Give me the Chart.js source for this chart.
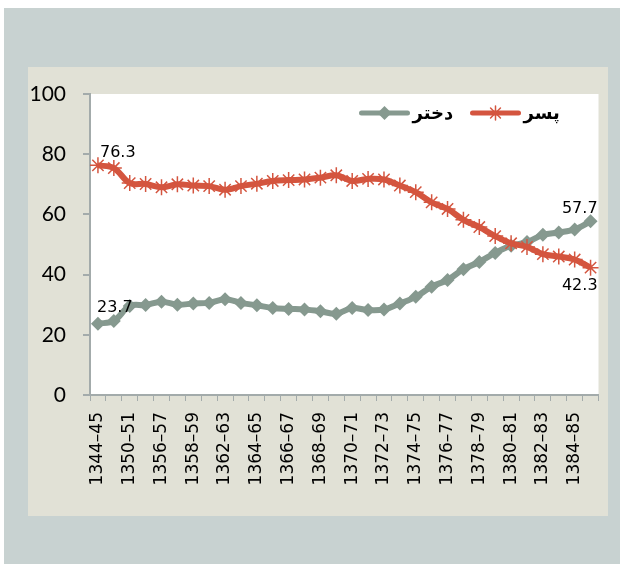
<!DOCTYPE html>
<html>
<head>
<meta charset="utf-8">
<script src="https://cdn.jsdelivr.net/npm/chart.js@4/dist/chart.umd.min.js"></script>
<style>
  html, body { margin: 0; padding: 0; background: #ffffff; }
  #fundo {
    position: absolute; left: 4px; top: 8px; width: 616px; height: 556px;
    background: #c8d2d1;
  }
  #painel {
    position: absolute; left: 28px; top: 67px; width: 580px; height: 449px;
    background: #e1e1d6;
  }
  #grafico { display: block; }
</style>
</head>
<body>
<div id="fundo"></div>
<div id="painel"><canvas id="grafico" width="580" height="449"></canvas></div>
<script>
// Anos (somente os pares aparecem no eixo)
const periodos = [
  '1344–45', '1347–48', '1350–51', '1353–54', '1356–57', '1357–58', '1358–59', '1360–61',
  '1362–63', '1363–64', '1364–65', '1365–66', '1366–67', '1367–68', '1368–69', '1369–70',
  '1370–71', '1371–72', '1372–73', '1373–74', '1374–75', '1375–76', '1376–77', '1377–78',
  '1378–79', '1379–80', '1380–81', '1381–82', '1382–83', '1383–84', '1384–85', '1385–86'
];

// پسر
const valoresPesar = [
  76.3, 75.4, 70.4, 70.1, 69.0, 70.0, 69.6, 69.4, 68.2, 69.4, 70.2, 71.1, 71.4, 71.6, 72.2, 73.0,
  71.1, 71.8, 71.6, 69.6, 67.4, 64.0, 61.8, 58.2, 55.8, 52.8, 50.4, 49.2, 46.8, 46.0, 45.0, 42.3
];

// دختر
const valoresDokhtar = [
  23.7, 24.6, 29.6, 29.9, 31.0, 30.0, 30.4, 30.6, 31.8, 30.6, 29.8, 28.9, 28.6, 28.4, 27.8, 27.0,
  28.9, 28.2, 28.4, 30.4, 32.6, 36.0, 38.2, 41.8, 44.2, 47.2, 49.6, 50.8, 53.2, 54.0, 55.0, 57.7
];

const ticksY = [0, 20, 40, 60, 80, 100];

const corPesar = '#d4553f';
const corDokhtar = '#86998f';
const corEixo = '#a3abab';

// rótulos de valor no primeiro e no último ponto
const rotulosValor = [
  { serie: 0, idx: 0, dx: 2, dy: -8, alinhar: 'left' },
  { serie: 1, idx: 0, dx: -1, dy: -12, alinhar: 'left' },
  { serie: 1, idx: periodos.length - 1, dx: 7, dy: -8, alinhar: 'right' },
  { serie: 0, idx: periodos.length - 1, dx: 7, dy: 22, alinhar: 'right' }
];

function desenharLosango(ctx, x, y, r, cor) {
  ctx.beginPath();
  ctx.moveTo(x, y - r);
  ctx.lineTo(x + r, y);
  ctx.lineTo(x, y + r);
  ctx.lineTo(x - r, y);
  ctx.closePath();
  ctx.fillStyle = cor;
  ctx.fill();
}

function desenharEstrela(ctx, x, y, r, cor) {
  ctx.strokeStyle = cor;
  ctx.lineWidth = 1.5;
  ctx.beginPath();
  for (let k = 0; k < 4; k++) {
    const a = k * Math.PI / 4;
    ctx.moveTo(x - r * Math.cos(a), y - r * Math.sin(a));
    ctx.lineTo(x + r * Math.cos(a), y + r * Math.sin(a));
  }
  ctx.stroke();
}

const pluginRotulos = {
  id: 'rotulos',
  afterDatasetsDraw(chart) {
    const ctx = chart.ctx;
    ctx.save();
    ctx.font = '16px "DejaVu Sans"';
    ctx.fillStyle = '#000';
    ctx.textBaseline = 'alphabetic';
    rotulosValor.forEach(r => {
      const ponto = chart.getDatasetMeta(r.serie).data[r.idx];
      const valor = chart.data.datasets[r.serie].data[r.idx];
      ctx.textAlign = r.alinhar;
      ctx.fillText(valor.toFixed(1), ponto.x + r.dx, ponto.y + r.dy);
    });
    ctx.restore();
  }
};

// legenda dentro da área do gráfico, canto superior direito
const pluginLegenda = {
  id: 'legendaInterna',
  afterDatasetsDraw(chart) {
    const ctx = chart.ctx;
    const area = chart.chartArea;
    const y = area.top + 19;
    ctx.save();
    ctx.font = 'bold 18px "DejaVu Sans"';
    ctx.fillStyle = '#000';
    ctx.textBaseline = 'middle';
    ctx.textAlign = 'left';

    // distância entre a borda direita e o fim da linha de cada item
    const itens = [
      { texto: chart.data.datasets[0].label, cor: corPesar, marca: 'estrela', lin: 80 },
      { texto: chart.data.datasets[1].label, cor: corDokhtar, marca: 'losango', lin: 191 }
    ];
    itens.forEach(item => {
      const fim = area.right - item.lin;
      const inicio = fim - 46;
      ctx.fillText(item.texto, fim + 5, y + 1);
      ctx.strokeStyle = item.cor;
      ctx.lineWidth = 5;
      ctx.lineCap = 'round';
      ctx.beginPath();
      ctx.moveTo(inicio, y);
      ctx.lineTo(fim, y);
      ctx.stroke();
      const cx = (inicio + fim) / 2;
      if (item.marca === 'estrela') desenharEstrela(ctx, cx, y, 7, item.cor);
      else desenharLosango(ctx, cx, y, 7, item.cor);
    });
    ctx.restore();
  }
};

const pluginFundoArea = {
  id: 'fundoArea',
  beforeDraw(chart) {
    const a = chart.chartArea;
    chart.ctx.save();
    chart.ctx.fillStyle = '#ffffff';
    chart.ctx.fillRect(a.left, a.top, a.right - a.left, a.bottom - a.top);
    chart.ctx.restore();
  }
};

new Chart(document.getElementById('grafico'), {
  type: 'line',
  data: {
    labels: periodos,
    datasets: [
      {
        label: 'پسر',
        data: valoresPesar,
        borderColor: corPesar,
        backgroundColor: corPesar,
        borderWidth: 6,
        tension: 0.35,
        pointStyle: 'star',
        pointRadius: 8,
        pointBorderWidth: 1.5,
        pointBorderColor: corPesar
      },
      {
        label: 'دختر',
        data: valoresDokhtar,
        borderColor: corDokhtar,
        backgroundColor: corDokhtar,
        borderWidth: 6,
        tension: 0.35,
        pointStyle: 'rectRot',
        pointRadius: 7,
        pointBorderWidth: 0
      }
    ]
  },
  options: {
    responsive: false,
    animation: false,
    layout: { padding: { top: 27, right: 5, left: 0, bottom: 0 } },
    plugins: {
      legend: { display: false },
      tooltip: { enabled: false }
    },
    scales: {
      x: {
        offset: true,
        grid: { offset: true, drawOnChartArea: false, tickLength: 6, color: corEixo, lineWidth: 1 },
        border: { color: corEixo, width: 2 },
        ticks: {
          autoSkip: false,
          maxRotation: 90,
          minRotation: 90,
          padding: 11,
          color: '#000',
          font: { family: 'DejaVu Sans', size: 17 },
          callback: function(valor, indice) {
            return indice % 2 === 0 ? this.getLabelForValue(valor) : '';
          }
        },
        afterFit(escala) {
          escala.height = 121;
          escala.paddingLeft = 0;
          escala.paddingRight = 0;
        }
      },
      y: {
        min: 0,
        max: 100,
        afterBuildTicks(escala) { escala.ticks = ticksY.map(v => ({ value: v })); },
        grid: { drawOnChartArea: false, tickLength: 7, color: corEixo, lineWidth: 2 },
        border: { color: corEixo, width: 2 },
        ticks: {
          padding: 17,
          color: '#000',
          font: { family: 'Lato', size: 21 }
        },
        afterFit(escala) {
          escala.width = 62;
          escala.paddingTop = 0;
          escala.paddingBottom = 0;
        }
      }
    }
  },
  plugins: [pluginFundoArea, pluginRotulos, pluginLegenda]
});
</script>
</body>
</html>
